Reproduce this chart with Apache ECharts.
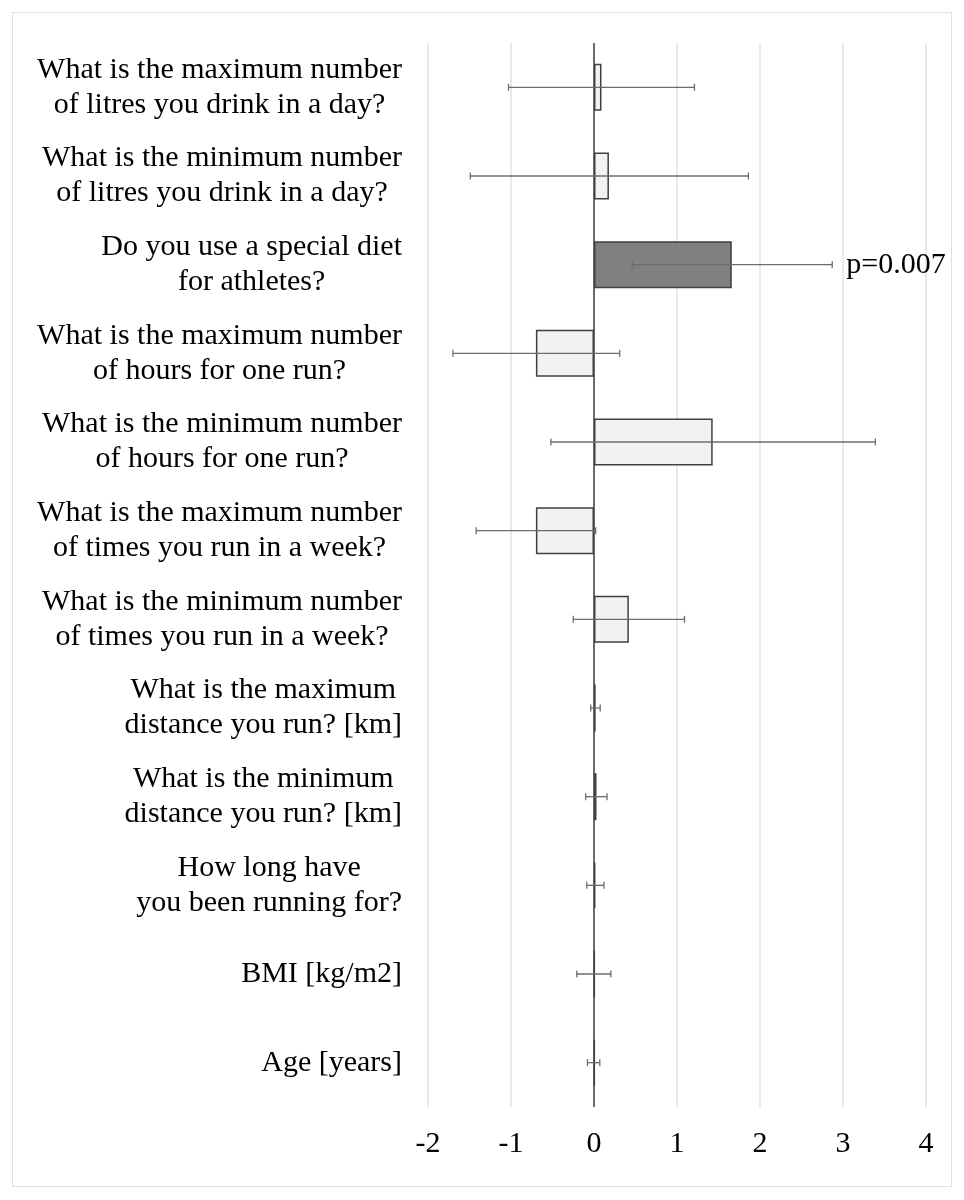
<!DOCTYPE html>
<html>
<head>
<meta charset="utf-8">
<script src="https://cdn.jsdelivr.net/npm/echarts@6/dist/echarts.min.js"></script>
<style>
  html, body { margin: 0; padding: 0; background: #fff; }
  #chart { position: absolute; left: 0; top: 0; width: 964px; height: 1200px; }
  #frame { position: absolute; left: 12px; top: 12px; width: 938px; height: 1173px; border: 1px solid #e0e0e0; pointer-events: none; }
</style>
</head>
<body>
<div id="chart"></div>
<div id="frame"></div>
<script>
// ---- data (top to bottom) ----
const categories = [
  "What is the maximum number\nof litres you drink in a day?",
  "What is the minimum number\nof litres you drink in a day?",
  "Do you use a special diet\nfor athletes?",
  "What is the maximum number\nof hours for one run?",
  "What is the minimum number\nof hours for one run?",
  "What is the maximum number\nof times you run in a week?",
  "What is the minimum number\nof times you run in a week?",
  "What is the maximum\ndistance you run? [km]",
  "What is the minimum\ndistance you run? [km]",
  "How long have\nyou been running for?",
  "BMI [kg/m2]",
  "Age [years]"
];
const estimates = [0.09, 0.18, 1.66, -0.70, 1.43, -0.70, 0.42, 0.02, 0.03, 0.017, 0.008, 0.008];
const ciLower   = [-1.03, -1.49, 0.46, -1.70, -0.52, -1.42, -0.25, -0.04, -0.10, -0.087, -0.207, -0.079];
const ciUpper   = [1.21, 1.86, 2.87, 0.31, 3.39, 0.02, 1.09, 0.075, 0.157, 0.12, 0.203, 0.07];
const pLabels   = ["", "", "p=0.007", "", "", "", "", "", "", "", "", ""];
const xTicks    = [-2, -1, 0, 1, 2, 3, 4];

const FONT = "'Liberation Serif', 'Times New Roman', serif";

const chart = echarts.init(document.getElementById('chart'), null, { renderer: 'canvas' });

const barData = estimates.map((v, i) => ({
  value: v,
  itemStyle: {
    color: pLabels[i] ? '#808080' : '#f2f2f2',
    borderColor: '#404040',
    borderWidth: 1.5
  }
}));

const errData = categories.map((c, i) => [i, ciLower[i], ciUpper[i], pLabels[i]]);

const option = {
  animation: false,
  grid: { left: 428, right: 38, top: 43, bottom: 93, containLabel: false },
  xAxis: {
    type: 'value',
    min: xTicks[0],
    max: xTicks[xTicks.length - 1],
    interval: 1,
    axisLine: { show: false },
    axisTick: { show: false },
    splitLine: { show: true, lineStyle: { color: '#e2e2e2', width: 1.5 } },
    axisLabel: {
      fontFamily: FONT, fontSize: 30, color: '#000', margin: 22,
      formatter: v => String(v)
    }
  },
  yAxis: {
    type: 'category',
    inverse: true,
    data: categories,
    axisLine: { show: false },
    axisTick: { show: false },
    splitLine: { show: false },
    axisLabel: {
      align: 'right',
      margin: 26,
      fontFamily: FONT, fontSize: 30, color: '#000', lineHeight: 35,
      formatter: v => v.split('\n').map(l => '{c|' + l + '}').join('\n'),
      rich: {
        c: { align: 'center', fontFamily: FONT, fontSize: 30, color: '#000', lineHeight: 35 }
      }
    }
  },
  series: [
    {
      type: 'bar',
      data: barData,
      barCategoryGap: '47%',
      z: 3,
      markLine: {
        silent: true,
        symbol: 'none',
        label: { show: false },
        lineStyle: { color: '#404040', width: 1.5, type: 'solid' },
        data: [{ xAxis: 0 }],
        z: 5
      }
    },
    {
      type: 'custom',
      z: 6,
      data: errData,
      encode: { y: 0, x: [1, 2] },
      renderItem: function (params, api) {
        const idx = api.value(0);
        const lo = api.coord([api.value(1), idx]);
        const hi = api.coord([api.value(2), idx]);
        const y = lo[1];
        const cap = 3.5;
        const style = { stroke: '#6c6c6c', lineWidth: 1.3 };
        const children = [
          { type: 'line', shape: { x1: lo[0], y1: y, x2: hi[0], y2: y }, style: style },
          { type: 'line', shape: { x1: lo[0], y1: y - cap, x2: lo[0], y2: y + cap }, style: style },
          { type: 'line', shape: { x1: hi[0], y1: y - cap, x2: hi[0], y2: y + cap }, style: style }
        ];
        const lab = errData[params.dataIndex][3];
        if (lab) {
          children.push({
            type: 'text',
            style: {
              x: hi[0] + 14, y: y, text: lab,
              font: '30px ' + FONT, fill: '#000',
              textAlign: 'left', textVerticalAlign: 'middle'
            }
          });
        }
        return { type: 'group', children: children };
      }
    }
  ]
};
chart.setOption(option);
</script>
</body>
</html>
